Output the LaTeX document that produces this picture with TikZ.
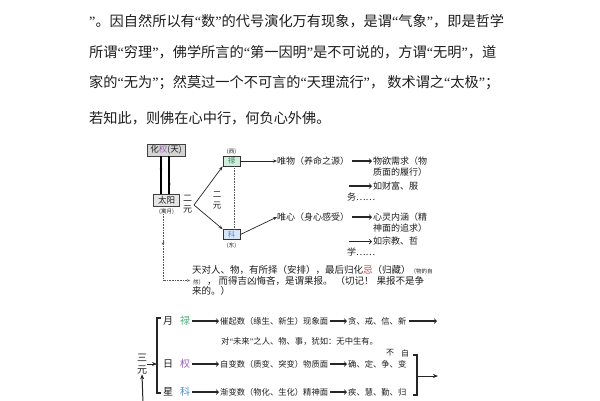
\documentclass[tikz,border=0pt]{standalone}
\usepackage{fontspec}
\setmainfont{Noto Sans CJK SC}
\newfontfamily\qfont{Liberation Serif}
\usetikzlibrary{arrows.meta}
\definecolor{ink}{HTML}{1E1E1E}
\definecolor{grn}{HTML}{4DB37A}
\definecolor{purp}{HTML}{9A62B8}
\definecolor{blu}{HTML}{4F8ED6}
\definecolor{redj}{HTML}{E03A3A}
\newcommand\qo{{\qfont “}}
\newcommand\qc{{\qfont ”}}
\newcommand\fsz[1]{\fontsize{#1}{#1}\selectfont}
\begin{document}
\begin{tikzpicture}[x=1pt,y=-1pt,
 every node/.style={text=ink},
 para/.style={anchor=west,inner sep=0pt,font=\fsz{14.2}},
 lbl/.style={anchor=west,inner sep=0pt,font=\fsz{9}},
 tb/.style={anchor=west,inner sep=0pt,font=\fsz{9.5}},
 sml/.style={anchor=west,inner sep=0pt,font=\fsz{8.3}},
 big/.style={inner sep=0pt,font=\fsz{10}},
 tny/.style={inner sep=0pt,font=\fsz{5.5}},
 gbox/.style={draw=black!75,fill=black!17,line width=0.8pt,inner sep=0pt,minimum height=12pt,font=\fsz{8.5}},
 cbox/.style={draw=black!80,line width=0.8pt,inner sep=0pt,minimum width=17pt,minimum height=10pt,font=\fsz{7.5}},
 arr/.style={-{Stealth[length=4pt,width=3pt]},line width=0.7pt,black!85},
 arrb/.style={-{Stealth[length=5pt,width=4pt]},line width=1pt,black!85},
 tarr/.style={line width=1.1pt,black!85,-{Straight Barb[length=2.5pt,width=5pt,line width=0.6pt]}},
 dline/.style={densely dotted,line width=0.6pt,black!65},
 brk/.style={line width=1.1pt,black!85},
 stk/.style={inner sep=0pt,align=center,font=\fontsize{9}{11.5}\selectfont},
 stkb/.style={inner sep=0pt,align=center,font=\fontsize{10}{12}\selectfont}
]
\useasboundingbox (0,0) rectangle (600,400);
\fill[white] (0,0) rectangle (600,400);

% paragraph
\node[para] (p1) at (89,21) {\qc。因自然所以有\qo 数\qc 的代号演化万有现象，是谓\qo 气象\qc ，即是哲学};
\node[para] (p2) at (89,52) {所谓\qo 穷理\qc ，佛学所言的\qo 第一因明\qc 是不可说的，方谓\qo 无明\qc ，道};
\node[para] (p3) at (89,83) {家的\qo 无为\qc ；然莫过一个不可言的\qo 天理流行\qc ， 数术谓之\qo 太极\qc ；};
\node[para] (p4) at (89,118) {若知此，则佛在心中行，何负心外佛。};

% upper diagram
\node[gbox,minimum width=38pt] (hq) at (166,150) {化\textcolor{purp}{权}(天)};
\node[gbox,minimum width=26pt,fill=black!10] (ty) at (166.5,200.5) {太阳};
\node[tny] (ym) at (166.5,211.5) {(寓月)};
\draw[line width=1.1pt] ([xshift=-5pt]hq.south) -- ([xshift=-5.5pt]ty.north);
\draw[line width=1.1pt] ([xshift=3pt]hq.south) -- ([xshift=2.5pt]ty.north);
\fill (161,169) circle (1.4);
\fill (169.2,184) circle (1.4);
\node[stk] (ey1) at (187.5,204) {二\\元};

\node[cbox,fill=grn!25] (lu) at (231.5,161) {\textcolor{grn!80!black}{禄}};
\node[cbox,fill=blu!22] (ke) at (231.5,234.5) {\textcolor{blu}{科}};
\node[tny] (xi) at (231.5,151.5) {(西)};
\node[tny] (do) at (231.5,246) {(东)};
\draw[dline] ([xshift=3pt]lu.south) -- ([xshift=3pt]ke.north);
\node[stk,font=\fontsize{8.5}{11}\selectfont] (ey2) at (217,200.5) {二\\元};

\coordinate (v) at (194,205);
\draw[arr] (v) -- (lu.south west);
\draw[arr] (v) -- (ke.north west);

\node[lbl] (wm) at (277,161) {唯物（养命之源）};
\node[lbl] (t1) at (373,161) {物欲需求（物};
\node[lbl] (t2) at (373,172) {质面的履行）};
\coordinate (c2) at (349,186);
\node[lbl] (t3) at (373,186) {如财富、服};
\node[lbl] (t4) at (347,197.5) {务……};
\node[lbl] (wx) at (277,217) {唯心（身心感受）};
\node[lbl] (t5) at (373,217) {心灵内涵（精};
\node[lbl] (t6) at (373,228) {神面的追求）};
\coordinate (c4) at (349,241.5);
\node[lbl] (t7) at (373,241.5) {如宗教、哲};
\node[lbl] (t8) at (347,252.5) {学……};
\draw[arr] (lu.east) -- (wm.west);
\draw[arr] (ke.east) -- (wx.west);
\draw[tarr] ([xshift=3pt]wm.east) -- ([xshift=-1pt]t1.west);
\draw[tarr] (c2) -- ([xshift=-1pt]t3.west);
\draw[tarr] ([xshift=3pt]wx.east) -- ([xshift=-1pt]t5.west);
\draw[tarr] (c4) -- ([xshift=-1pt]t7.west);

% text block
\node[tb] (b1) at (192,270) {天对人、物，有所择（安排），最后归化\textcolor{redj}{忌}（归藏）{\fsz{5.5}（物的自}};
\node[tb] (b2) at (193,280.5) {{\fsz{5.5}然）}\hspace{3pt}，\hspace{2pt}而得吉凶悔吝，是谓果报。\hspace{3pt}（切记！\hspace{3pt}果报不是争};
\node[tb] (b3) at (192,291) {来的。）};
\coordinate (d0) at (163,214);
\coordinate (d1) at (163,280.5);
\draw[dline,-{Stealth[length=3pt,width=2.5pt]}] (d0) -- (d1) -- ([xshift=-3pt]b2.west);
\draw[-{Stealth[length=2.5pt,width=2.5pt]},black!65] (163,240) -- (163,245);

% lower diagram
\node[stkb] (sy) at (142,364) {三\\元};
\coordinate (bt) at (157,318);
\coordinate (bb) at (157,393);
\draw[brk] ([xshift=4pt]bt) -- (bt) -- (bb) -- ([xshift=4pt]bb);
\draw[arrb] (sy.east) -- (sy.east -| bt);
\coordinate (up0) at (143,403);
\draw[arrb] (up0) -- (sy.south);

\node[big] (yue) at (168,321) {月};
\node[big,text=grn] (lu2) at (185,321) {禄};
\node[sml] (r1b) at (220,321) {催起数（缘生、新生）现象面};
\node[sml] (r1d) at (348,321) {贪、戒、信、新};
\coordinate (r1e) at (437,321);
\node[sml] (r1f) at (221,341) {对\qo 未来\qc 之人、物、事，犹如：无中生有。};
\draw[tarr] ([xshift=2pt]lu2.east) -- ([xshift=-1pt]r1b.west);
\draw[tarr] ([xshift=2pt]r1b.east) -- ([xshift=-1pt]r1d.west);
\draw[tarr] ([xshift=2pt]r1d.east) -- (r1e);

\node[big] (ri) at (168,364) {日};
\node[big,text=purp] (qu2) at (185,364) {权};
\node[sml] (r2b) at (220,364) {自变数（质变、突变）物质面};
\node[sml] (r2d) at (348,364) {确、定、争、变};
\node[big,font=\fsz{8}] (bu) at (390,353) {不};
\node[big,font=\fsz{8}] (zi) at (405,353) {自};
\draw[tarr] ([xshift=2pt]qu2.east) -- ([xshift=-1pt]r2b.west);
\draw[tarr] ([xshift=2pt]r2b.east) -- ([xshift=-1pt]r2d.west);

\node[big] (xing) at (168,392) {星};
\node[big,text=blu] (ke2) at (185,392) {科};
\node[sml] (r3b) at (220,392) {渐变数（物化、生化）精神面};
\node[sml] (r3d) at (348,392) {疾、慧、勤、归};
\draw[tarr] ([xshift=2pt]ke2.east) -- ([xshift=-1pt]r3b.west);
\draw[tarr] ([xshift=2pt]r3b.east) -- ([xshift=-1pt]r3d.west);

\coordinate (rt) at (417,355);
\coordinate (rb) at (417,395);
\draw[brk] ([xshift=-4pt]rt) -- (rt) -- (rb) -- ([xshift=-4pt]rb);
\coordinate (rm) at (417,376);
\coordinate (re) at (438,376);
\draw[arrb] (rm) -- (re);
\end{tikzpicture}
\end{document}
